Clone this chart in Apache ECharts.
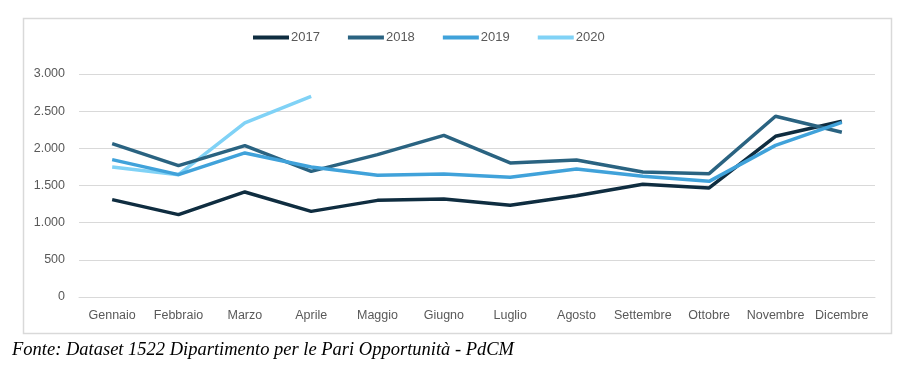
<!DOCTYPE html>
<html><head><meta charset="utf-8">
<script src="https://cdn.jsdelivr.net/npm/echarts@6/dist/echarts.min.js"></script>
<style>html,body{margin:0;padding:0;background:#fff}#c{width:912px;height:366px}</style>
</head><body><div id="c"></div>
<script>
const categories = ['Gennaio','Febbraio','Marzo','Aprile','Maggio','Giugno','Luglio','Agosto','Settembre','Ottobre','Novembre','Dicembre'];
const s2017 = [1310,1108,1413,1152,1300,1319,1233,1363,1516,1467,2162,2364];
const s2018 = [2063,1767,2036,1690,1915,2175,1803,1843,1682,1659,2431,2216];
const s2019 = [1848,1646,1938,1750,1637,1655,1610,1723,1623,1556,2040,2350];
const s2020 = [1750,1646,2342,2700];
const seriesNames = ['2017','2018','2019','2020'];
const colors = ['#0f2d40','#2a6381','#40a2da','#80d2f6'];
const sourceText = 'Fonte: Dataset 1522 Dipartimento per le Pari Opportunità - PdCM';

const chart = echarts.init(document.getElementById('c'), null, {renderer:'canvas'});
const data = [s2017, s2018, s2019, s2020];
chart.setOption({
  animation:false,
  color: colors,
  grid:{left:79, right:37, top:74, bottom:69, containLabel:false},
  legend:{
    top:26, left:248, itemGap:28, itemWidth:36, itemHeight:4, icon:'rect',
    textStyle:{color:'#595959', fontSize:13, fontFamily:'Liberation Sans, Arial, sans-serif', padding:[0,0,0,-3]},
    data: seriesNames
  },
  xAxis:{
    type:'category', data:categories, boundaryGap:true,
    axisLine:{lineStyle:{color:'#d9d9d9', width:1}}, axisTick:{show:false},
    axisLabel:{color:'#595959', fontSize:12.5, fontFamily:'Liberation Sans, Arial, sans-serif', margin:12, interval:0}
  },
  yAxis:{
    type:'value', min:0, max:3000, interval:500,
    axisLine:{show:false}, axisTick:{show:false},
    splitLine:{lineStyle:{color:'#d9d9d9', width:1}},
    axisLabel:{color:'#595959', fontSize:12.5, fontFamily:'Liberation Sans, Arial, sans-serif', margin:14,
      formatter: v => v >= 1000 ? Math.floor(v/1000) + '.' + String(v%1000).padStart(3,'0') : String(v)}
  },
  series: seriesNames.map((n,i)=>({
    name:n, type:'line', data:data[i], symbol:'none', smooth:false,
    lineStyle:{width:3.5, color:colors[i]}, itemStyle:{color:colors[i]}, z: i===3?1:2+i
  })),
  graphic:[
    {type:'rect', shape:{x:23.5, y:18.5, width:868, height:315}, style:{fill:'none', stroke:'#d9d9d9', lineWidth:1.5}, silent:true, z:-1},
    {type:'text', left:12, top:341, style:{text:sourceText, font:'italic 18.5px "Liberation Serif", "Times New Roman", serif', fill:'#000'}}
  ]
});
</script></body></html>
